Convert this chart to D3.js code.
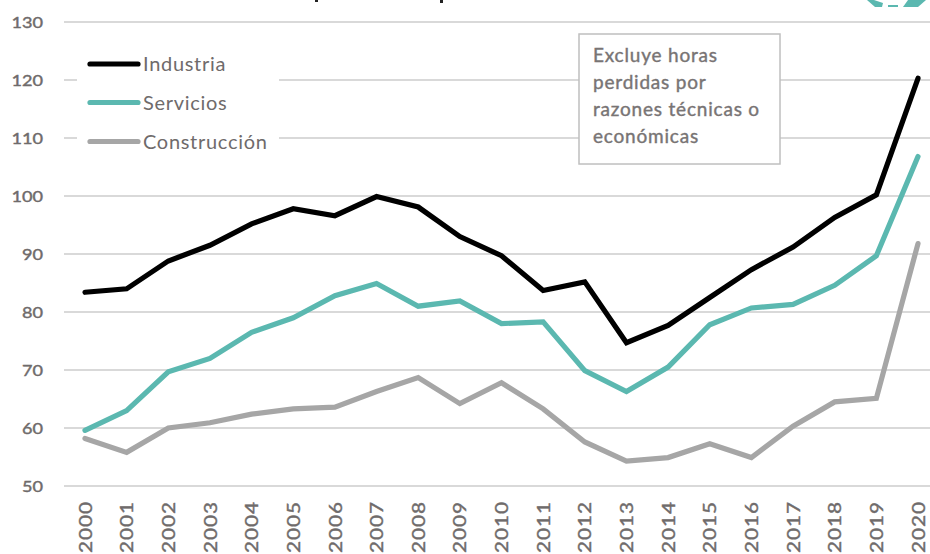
<!DOCTYPE html>
<html><head><meta charset="utf-8">
<script src="https://cdn.jsdelivr.net/npm/d3@7/dist/d3.min.js"></script>
<style>html,body{margin:0;padding:0;background:#fff;overflow:hidden}svg{display:block}text{font-family:Lato,sans-serif}</style>
</head><body><div id="c"></div>
<script>
const years=[2000,2001,2002,2003,2004,2005,2006,2007,2008,2009,2010,2011,2012,2013,2014,2015,2016,2017,2018,2019,2020];
const industria=[83.4,84,88.8,91.5,95.2,97.8,96.6,99.9,98.1,93,89.7,83.7,85.2,74.7,77.7,82.5,87.3,91.2,96.3,100.2,120.3];
const servicios=[59.6,63,69.7,72,76.5,79,82.8,84.9,81,81.9,78,78.3,69.9,66.3,70.5,77.8,80.7,81.3,84.6,89.7,106.8];
const construccion=[58.2,55.8,60,60.9,62.4,63.3,63.6,66.3,68.7,64.2,67.8,63.3,57.6,54.3,54.9,57.3,54.9,60.3,64.5,65.1,91.8];
const yTicks=[50,60,70,80,90,100,110,120,130];
const seriesNames=["Industria","Servicios","Construcción"];
const seriesColors=["#000000","#5bb8b0","#a6a6a6"];
const noteLines=["Excluye horas","perdidas por","razones técnicas o","económicas"];
const logoShapes=[
 "867,0 874,0 883,3 882,7 875,7",
 "888,5 898,5 898,7 888,7",
 "908,0 926,0 918,7 903,7"
];
const titleMarks=[[315,2],[440,3]];

const svg=d3.select("#c").append("svg").attr("width",930).attr("height",554);
const x=d3.scaleLinear().domain([2000,2020]).range([85,918]);
const y=d3.scaleLinear().domain([50,130]).range([486,22]);
svg.append("g").selectAll("polygon").data(logoShapes).join("polygon").attr("points",d=>d).attr("fill","#5bb8b0");
svg.append("g").selectAll("rect").data(titleMarks).join("rect").attr("x",d=>d[0]).attr("y",0).attr("width",3).attr("height",d=>d[1]).attr("fill","#222");
const grid=svg.append("g");
grid.selectAll("line").data(yTicks).join("line")
 .attr("x1",64).attr("x2",930).attr("y1",d=>y(d)).attr("y2",d=>y(d))
 .attr("stroke","#d9d9d9").attr("stroke-width",2);
const yAxis=d3.axisLeft(y).tickValues(yTicks).tickSize(0).tickPadding(0);
const ya=svg.append("g").attr("transform","translate(43,0)").call(yAxis);
ya.select(".domain").remove();
ya.selectAll("text").attr("x",0).attr("y",0).attr("dy","0.36em").attr("text-anchor","end")
 .attr("transform","scale(1.17,1)")
 .attr("font-size",15.5).attr("font-weight",400).attr("fill","#6f6b6b").attr("stroke","#6f6b6b").attr("stroke-width",0.4).style("font-family","Lato,sans-serif");
const xa=svg.append("g").attr("transform","translate(0,501)").call(d3.axisBottom(x).tickValues(years).tickFormat(d3.format("d")).tickSize(0).tickPadding(0));
xa.select(".domain").remove();
xa.selectAll("text").attr("transform","rotate(-90) scale(1.22,1)").attr("x",0).attr("y",0).attr("dy","0.36em").attr("text-anchor","end")
 .attr("font-size",17).attr("font-weight",400).attr("fill","#6f6b6b").attr("stroke","#6f6b6b").attr("stroke-width",0.4).style("font-family","Lato,sans-serif").style("letter-spacing","0.8px");
const line=d3.line().x((d,i)=>x(years[i])).y(d=>y(d));
[construccion,servicios,industria].forEach((s,k)=>{
 svg.append("path").datum(s).attr("d",line).attr("fill","none")
  .attr("stroke",seriesColors[2-k]).attr("stroke-width",5.2).attr("stroke-linejoin","miter").attr("stroke-linecap","round");
});
svg.append("rect").attr("x",77).attr("y",42).attr("width",202).attr("height",118).attr("fill","#fff");
const ly=[64,102.5,141.5];
const lg=svg.append("g");
seriesNames.forEach((n,i)=>{
 lg.append("line").attr("x1",90).attr("x2",138).attr("y1",ly[i]).attr("y2",ly[i]).attr("stroke",seriesColors[i]).attr("stroke-width",5.2).attr("stroke-linecap","round");
 lg.append("text").attr("x",143).attr("y",ly[i]).attr("dy","0.36em").attr("font-size",20).attr("fill","#6f6b6b").style("letter-spacing","0.7px").text(n);
});
svg.append("rect").attr("x",579).attr("y",34).attr("width",201).attr("height",130).attr("fill","#fff").attr("stroke","#bfbfbf").attr("stroke-width",1.5);
svg.append("g").selectAll("text").data(noteLines).join("text")
 .attr("x",593).attr("y",(d,i)=>55+i*27.2).attr("dy","0.36em").attr("font-size",19).attr("font-weight",400).attr("fill","#787474").attr("stroke","#787474").attr("stroke-width",0.4).style("letter-spacing","0.8px").text(d=>d);
</script></body></html>
